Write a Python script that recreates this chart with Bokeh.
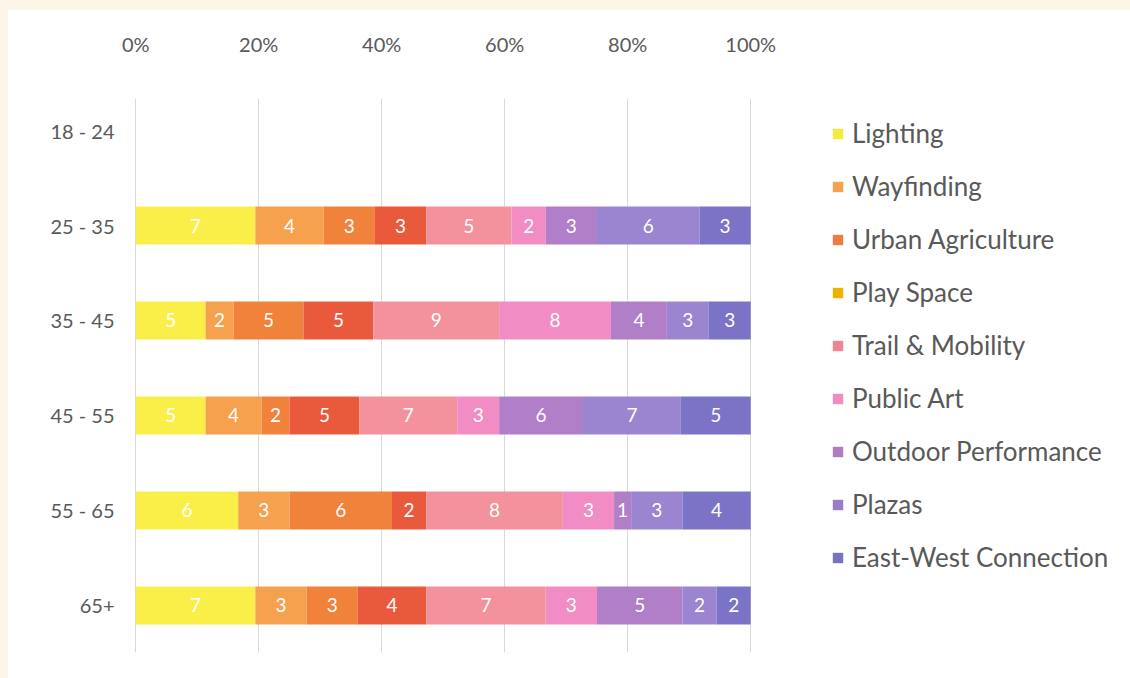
import pandas as pd
from bokeh.plotting import figure
from bokeh.models import (ColumnDataSource, Range1d, FixedTicker, Legend, LegendItem,
                          NumeralTickFormatter)
from bokeh.layouts import column
from bokeh.core.properties import value
from bokeh.embed import file_html
from bokeh.resources import INLINE

# Responses per improvement type, by age group (counts)
age_groups = ["18 - 24", "25 - 35", "35 - 45", "45 - 55", "55 - 65", "65+"]
lighting = [0, 7, 5, 5, 6, 7]
wayfinding = [0, 4, 2, 4, 3, 3]
urban_agriculture = [0, 3, 5, 2, 6, 3]
play_space = [0, 3, 5, 5, 2, 4]
trail_mobility = [0, 5, 9, 7, 8, 7]
public_art = [0, 2, 8, 3, 3, 3]
outdoor_performance = [0, 3, 4, 6, 1, 5]
plazas = [0, 6, 3, 7, 3, 2]
east_west_connection = [0, 3, 3, 5, 4, 2]

series_names = ["Lighting", "Wayfinding", "Urban Agriculture", "Play Space",
                "Trail & Mobility", "Public Art", "Outdoor Performance",
                "Plazas", "East-West Connection"]
series_values = [lighting, wayfinding, urban_agriculture, play_space, trail_mobility,
                 public_art, outdoor_performance, plazas, east_west_connection]
x_ticks = [0, 0.2, 0.4, 0.6, 0.8, 1.0]

bar_colors = ["#FAEF48", "#F5A14E", "#F0823C", "#E95A3C", "#F3929C",
              "#F18DC4", "#B07FC7", "#9B85D0", "#7B74C6"]
key_colors = ["#F2EC3C", "#F4A24E", "#EE7A44", "#EDB100", "#EE8592",
              "#F08CBE", "#B07EC0", "#9A7CC8", "#7872C4"]

FONT = "Lato"
GREY = "#595959"

counts = pd.DataFrame(dict(zip(series_names, series_values)), index=age_groups)
totals = counts.sum(axis=1)
shares = counts.div(totals.where(totals > 0, 1), axis=0)
right_edges = shares.cumsum(axis=1)
left_edges = right_edges - shares

# the frame runs to the right edge so the key can sit inside it;
# 0..100% spans 615 px of the 996 px wide frame
FIG_W, FIG_H = 1123, 669
BORDER_L = 127
frame_w = FIG_W - BORDER_L
x_start = -0.002
x_end = x_start + frame_w / 615.0

p = figure(width=FIG_W, height=FIG_H, output_backend="svg", toolbar_location=None,
           x_range=Range1d(x_start, x_end), y_range=Range1d(5.495, -0.337),
           x_axis_location="above", outline_line_color=None,
           background_fill_color="white", border_fill_color="white",
           min_border_left=BORDER_L, min_border_right=0, min_border_top=89,
           min_border_bottom=26)
p.margin = (9, 0, 0, 7)

for k, name in enumerate(series_names):
    rows = [i for i, g in enumerate(age_groups) if counts.loc[g, name] > 0]
    src = ColumnDataSource(dict(
        y=rows,
        left=[left_edges.iloc[i, k] for i in rows],
        right=[right_edges.iloc[i, k] for i in rows],
        mid=[(left_edges.iloc[i, k] + right_edges.iloc[i, k]) / 2 for i in rows],
        label=[str(counts.iloc[i, k]) for i in rows],
    ))
    p.hbar(y="y", left="left", right="right", height=0.4, source=src,
           fill_color=bar_colors[k], line_color=None)
    p.text(x="mid", y="y", text="label", source=src, text_color="white",
           text_align="center", text_baseline="middle", text_font=value(FONT),
           text_font_size="19px")

# legend keys come from zero-width bars carrying the key colours
key_src = ColumnDataSource(dict(y=[0], left=[0], right=[0]))
items = []
for name, c in zip(series_names, key_colors):
    r = p.hbar(y="y", left="left", right="right", height=0.4, source=key_src,
               fill_color=c, line_color=None)
    items.append(LegendItem(label=name, renderers=[r]))

legend = Legend(items=items, location=(697, 79), orientation="vertical",
                glyph_width=13, glyph_height=13, label_standoff=8,
                label_text_font=FONT, label_text_font_size="26px",
                label_text_color=GREY, label_height=32, spacing=21,
                padding=0, margin=0, border_line_color=None,
                background_fill_alpha=0)
p.add_layout(legend, "center")

xa = p.xaxis[0]
xa.ticker = FixedTicker(ticks=x_ticks)
xa.formatter = NumeralTickFormatter(format="0%")
xa.axis_line_color = None
xa.major_tick_line_color = None
xa.minor_tick_line_color = None
xa.major_label_standoff = 37
xa.major_label_text_font = FONT
xa.major_label_text_font_size = "20px"
xa.major_label_text_color = GREY

ya = p.yaxis[0]
ya.ticker = FixedTicker(ticks=list(range(len(age_groups))))
ya.major_label_overrides = {i: g for i, g in enumerate(age_groups)}
ya.axis_line_color = None
ya.major_tick_line_color = None
ya.minor_tick_line_color = None
ya.major_label_standoff = 14
ya.major_label_text_font = FONT
ya.major_label_text_font_size = "20px"
ya.major_label_text_color = GREY

p.xgrid.grid_line_color = "#D9D9D9"
p.xgrid.grid_line_width = 1
p.ygrid.grid_line_color = None

page = column(p, width=1130, height=678, styles={"background-color": "#FDF5E8"})

with open("out.html", "w") as f:
    f.write(file_html(page, INLINE))
